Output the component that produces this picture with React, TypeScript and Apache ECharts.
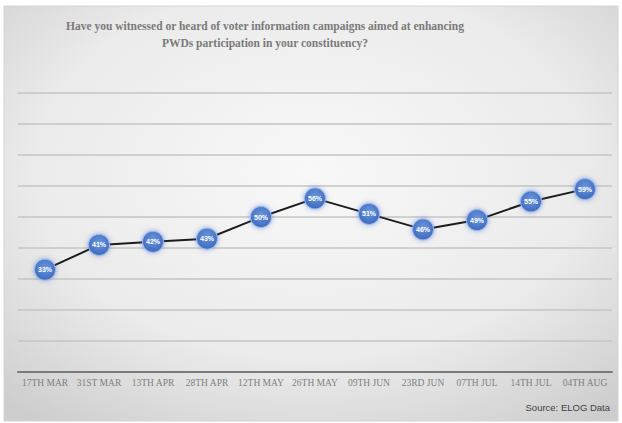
import React, { useEffect, useRef } from "react";
import * as echarts from "echarts";

const categories = ["17TH MAR", "31ST MAR", "13TH APR", "28TH APR", "12TH MAY", "26TH MAY", "09TH JUN", "23RD JUN", "07TH JUL", "14TH JUL", "04TH AUG"];
const values = [33, 41, 42, 43, 50, 56, 51, 46, 49, 55, 59];
const yTicks = [0, 90, 10];
const titleText = "Have you witnessed or heard of voter information campaigns aimed at enhancing\nPWDs participation in your constituency?";
const sourceText = "Source: ELOG Data";

export default function App() {
  const ref = useRef<HTMLDivElement>(null);
  useEffect(() => {
    if (!ref.current) return;
    const chart = echarts.init(ref.current, null, { renderer: "svg" });
    chart.setOption({
      animation: false,
      graphic: [
        {
          type: "rect",
          z: -10,
          shape: { x: 4, y: 6, width: 614, height: 415 },
          style: {
            fill: new echarts.graphic.RadialGradient(0.5, 0.4, 0.75, [
              { offset: 0, color: "#f8f8f8" },
              { offset: 0.6, color: "#ebebeb" },
              { offset: 1, color: "#cdcdcd" },
            ]),
            stroke: "#d4d4d4",
            lineWidth: 1,
          },
        },
        {
          type: "text",
          x: 265,
          y: 17,
          style: {
            text: titleText,
            textAlign: "center",
            fill: "#7a7a7a",
            fontSize: 11.5,
            fontWeight: "bold",
            fontFamily: "Liberation Serif",
            lineHeight: 17,
          },
        },
        {
          type: "text",
          right: 12,
          top: 402,
          style: {
            text: sourceText,
            fill: "#3f3f3f",
            fontSize: 9.5,
            fontFamily: "Liberation Sans Narrow, Liberation Sans",
          },
        },
      ],
      grid: { left: 18, right: 10, top: 93, bottom: 51 },
      xAxis: {
        type: "category",
        data: categories,
        axisLine: { lineStyle: { color: "#7a7a7a", width: 2 } },
        axisTick: { show: false },
        axisLabel: {
          color: "#7f7f7f",
          fontSize: 9.5,
          fontFamily: "Liberation Serif",
          margin: 6,
          interval: 0,
        },
      },
      yAxis: {
        type: "value",
        min: yTicks[0],
        max: yTicks[1],
        interval: yTicks[2],
        axisLine: { show: false },
        axisTick: { show: false },
        axisLabel: { show: false },
        splitLine: { lineStyle: { color: "#c4c4c4", width: 1.5 } },
      },
      series: [
        {
          type: "line",
          data: values,
          symbol: "circle",
          symbolSize: 21,
          lineStyle: { color: "#1c1c1c", width: 2 },
          itemStyle: {
            color: new echarts.graphic.RadialGradient(0.5, 0.4, 0.6, [
              { offset: 0, color: "#6b97de" },
              { offset: 1, color: "#3d69bd" },
            ]),
            borderColor: "#9bb8ec",
            borderWidth: 1,
            shadowBlur: 5,
            shadowColor: "rgba(70,110,210,0.6)",
          },
          label: {
            show: true,
            position: "inside",
            formatter: "{c}%",
            color: "#ffffff",
            fontSize: 7,
            fontWeight: "bold",
            fontFamily: "Liberation Sans",
          },
        },
      ],
    });
    return () => chart.dispose();
  }, []);
  return <div ref={ref} style={{ position: "absolute", left: 0, top: 0, width: 622, height: 423 }} />;
}
